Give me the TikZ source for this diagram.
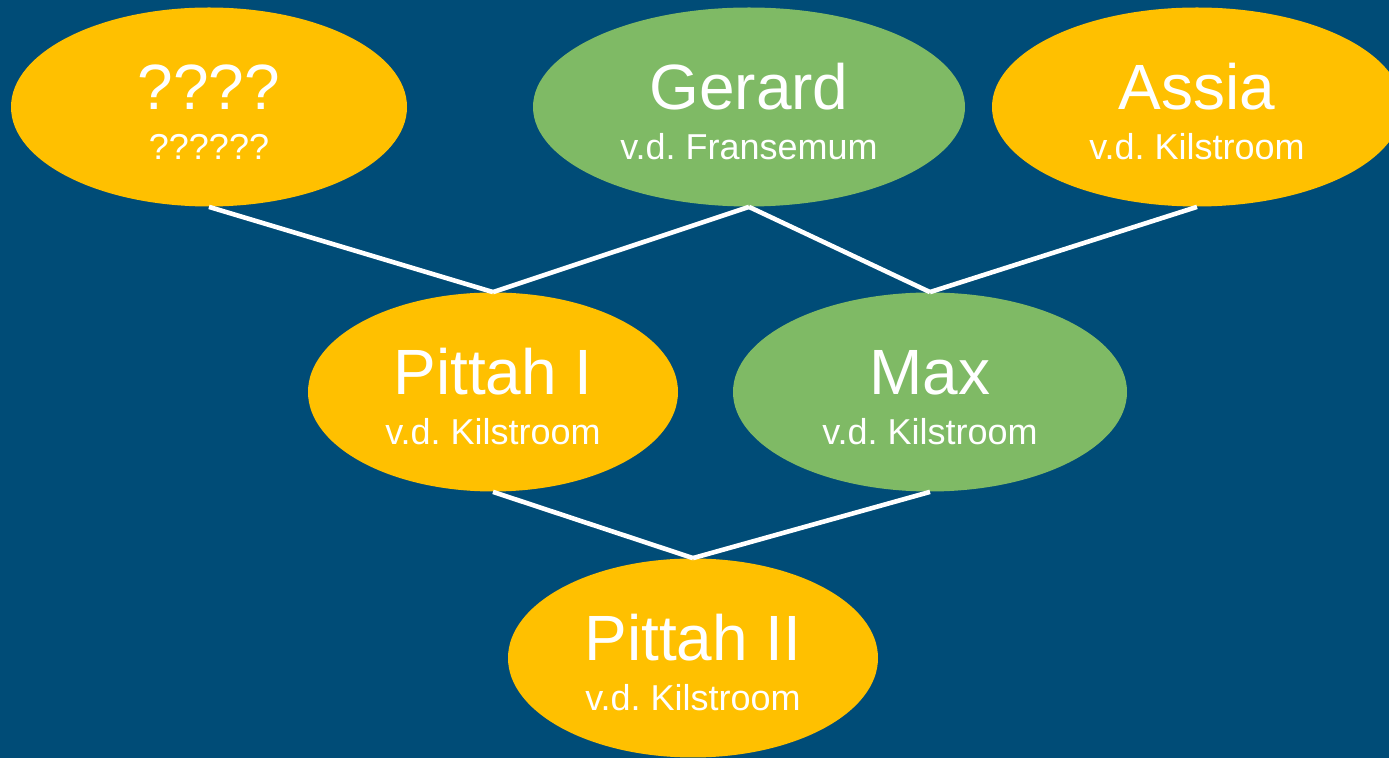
\documentclass[tikz,border=0pt]{standalone}
\usepackage{fontspec}
\setmainfont{Liberation Sans}
\usepackage{xcolor}
\usepackage{tikz}
\usetikzlibrary{shapes,positioning,calc}
\frenchspacing

\definecolor{bgblue}{RGB}{0,76,119}
\definecolor{dogorange}{RGB}{255,192,0}
\definecolor{doggreen}{RGB}{127,186,101}

\tikzset{
    dog/.style={ellipse, inner sep=0pt, text=white, align=center,
        font=\fontsize{18}{25}\selectfont,
        minimum height=99.5pt, text height=60pt, text depth=7pt},
    bitch/.style={dog, fill=dogorange},
    male/.style={dog, fill=doggreen},
    link/.style={white, line width=2.3pt}
}
\newcommand{\dogname}[2]{{\fontsize{32}{25}\selectfont #1}\\#2}

\begin{document}
\begin{tikzpicture}[x=0.5pt, y=-0.5pt]
    % Background
    \fill[bgblue] (0,0) rectangle (1389,758);
    \useasboundingbox (0,0) rectangle (1389,758);

    % Parents
    \node[bitch, minimum width=198pt] (unknown) at (209,107) {\dogname{????}{??????}};
    \node[male, minimum width=216pt] (gerard) at (749,107) {\dogname{Gerard}{v.d. Fransemum}};
    \node[bitch, minimum width=205pt] (assia) at (1197,107) {\dogname{Assia}{v.d. Kilstroom}};

    % Middle
    \node[bitch, minimum width=185pt] (pittahI) at (493,392) {\dogname{Pittah I}{v.d. Kilstroom}};
    \node[male, minimum width=197pt] (max) at (930,392) {\dogname{Max}{v.d. Kilstroom}};

    % Bottom
    \node[bitch, minimum width=185pt] (pittahII) at (693,658) {\dogname{Pittah II}{v.d. Kilstroom}};

    % Lines
    \draw[link] (unknown.south) -- (pittahI.north);
    \draw[link] (gerard.south) -- (pittahI.north);
    \draw[link] (gerard.south) -- (max.north);
    \draw[link] (assia.south) -- (max.north);
    \draw[link] (pittahI.south) -- (pittahII.north);
    \draw[link] (max.south) -- (pittahII.north);
\end{tikzpicture}
\end{document}
